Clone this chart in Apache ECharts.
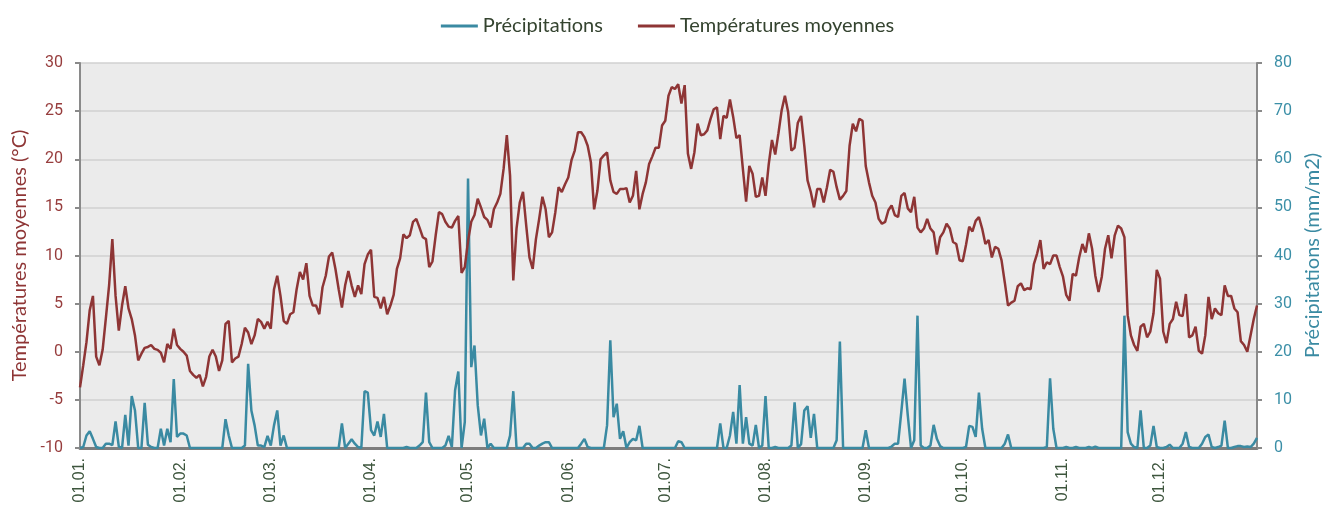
<!DOCTYPE html>
<html>
<head>
<meta charset="utf-8">
<title>Précipitations et températures moyennes</title>
<script src="https://cdn.jsdelivr.net/npm/echarts@6/dist/echarts.min.js"></script>
<style>
  html, body { margin: 0; padding: 0; background: #fff; }
  #chart { width: 1335px; height: 509px; }
</style>
</head>
<body>
<div id="chart"></div>
<script>
// jours par mois (année de 365 jours)
var monthDays = [31, 28, 31, 30, 31, 30, 31, 31, 30, 31, 30, 31]

// températures moyennes journalières (°C)
var temperatures = [
  -3.7, -1.4, 1.0, 4.3, 5.8, -0.5, -1.4, 0.2, 3.5, 6.9,
  11.7, 5.8, 2.2, 4.8, 6.8, 4.5, 3.4, 1.7, -0.9, -0.2,
  0.4, 0.5, 0.7, 0.3, 0.2, -0.1, -1.1, 0.8, 0.3, 2.4,
  0.7, 0.3, 0.0, -0.4, -2.0, -2.4, -2.7, -2.4, -3.6, -2.6,
  -0.5, 0.2, -0.5, -2.0, -0.9, 2.9, 3.2, -1.1, -0.7, -0.5,
  0.8, 2.5, 2.0, 0.8, 1.7, 3.4, 3.1, 2.4, 3.1, 2.4,
  6.5, 7.9, 5.8, 3.2, 2.9, 3.9, 4.1, 6.5, 8.3, 7.5,
  9.2, 5.8, 4.8, 4.8, 3.9, 6.7, 7.9, 9.9, 10.3, 8.6,
  6.5, 4.6, 6.9, 8.4, 6.9, 5.7, 6.9, 6.0, 9.1, 10.1,
  10.6, 5.7, 5.6, 4.5, 5.7, 3.9, 4.8, 5.9, 8.6, 9.7,
  12.2, 11.8, 12.1, 13.5, 13.8, 12.9, 11.9, 11.7, 8.8, 9.4,
  12.1, 14.5, 14.3, 13.5, 13.0, 12.9, 13.6, 14.1, 8.2, 8.8,
  11.5, 13.5, 14.2, 15.9, 15.0, 14.0, 13.7, 12.9, 14.8, 15.5,
  16.4, 19.0, 22.5, 18.3, 7.4, 12.8, 15.5, 16.6, 13.1, 9.8,
  8.6, 11.7, 13.8, 16.1, 14.8, 11.9, 12.4, 14.5, 17.1, 16.6,
  17.4, 18.1, 19.9, 20.9, 22.8, 22.8, 22.3, 21.4, 19.7, 14.8,
  16.7, 20.0, 20.4, 20.7, 17.8, 16.6, 16.4, 16.9, 16.9, 17.0,
  15.5, 16.2, 18.8, 14.8, 16.4, 17.6, 19.5, 20.3, 21.2, 21.2,
  23.5, 24.0, 26.6, 27.5, 27.3, 27.8, 25.8, 27.7, 20.6, 19.0,
  20.7, 23.7, 22.5, 22.6, 23.0, 24.2, 25.2, 25.4, 22.1, 24.5,
  24.3, 26.2, 24.4, 22.2, 22.5, 19.0, 15.6, 19.3, 18.5, 16.1,
  16.2, 18.1, 16.2, 19.5, 22.0, 20.5, 22.7, 25.1, 26.6, 24.9,
  20.9, 21.2, 23.8, 24.5, 21.4, 17.8, 16.6, 15.0, 16.9, 16.9,
  15.5, 17.1, 18.9, 18.7, 17.1, 15.8, 16.2, 16.7, 21.4, 23.7,
  22.9, 24.2, 24.0, 19.3, 17.6, 16.2, 15.5, 13.8, 13.3, 13.5,
  14.7, 15.2, 14.2, 14.0, 16.2, 16.5, 14.9, 14.5, 16.1, 12.9,
  12.4, 12.8, 13.8, 12.8, 12.4, 10.1, 11.9, 12.4, 13.3, 12.8,
  11.4, 11.2, 9.5, 9.4, 11.1, 13.0, 12.5, 13.6, 14.0, 12.8,
  11.2, 11.6, 9.8, 10.9, 10.7, 9.5, 7.2, 4.8, 5.1, 5.3,
  6.8, 7.1, 6.4, 6.6, 6.5, 9.1, 10.2, 11.6, 8.6, 9.3,
  9.1, 10.0, 10.0, 8.8, 7.8, 5.9, 5.3, 8.1, 7.9, 9.8,
  11.2, 10.3, 12.3, 10.7, 7.9, 6.2, 7.8, 10.7, 12.1, 9.7,
  12.1, 13.1, 12.8, 11.9, 3.8, 1.7, 0.7, 0.1, 2.6, 2.9,
  1.5, 2.1, 4.0, 8.5, 7.6, 2.1, 0.9, 2.9, 3.4, 5.2,
  3.8, 3.7, 6.0, 1.5, 1.7, 2.6, 0.1, -0.2, 1.7, 5.7,
  3.4, 4.5, 4.0, 3.8, 6.9, 5.8, 5.8, 4.5, 4.1, 1.1,
  0.7, 0.0, 1.7, 3.4, 4.8
]

// précipitations journalières (mm/m2)
var precipitations = [
  0, 0.2, 2.6, 3.5, 1.9, 0.2, 0, 0, 0.9, 0.9,
  0.6, 5.5, 0.3, 0, 6.9, 0.5, 10.8, 7.8, 0, 0,
  9.4, 0.7, 0.2, 0, 0, 4.0, 0.5, 4.0, 1.2, 14.3,
  2.3, 3.0, 3.0, 2.6, 0, 0, 0, 0, 0, 0,
  0, 0, 0, 0, 0, 6.0, 2.6, 0, 0, 0,
  0, 0.5, 17.5, 7.8, 4.7, 0.5, 0.5, 0.2, 2.5, 0.5,
  4.7, 7.8, 0.5, 2.6, 0, 0, 0, 0, 0, 0,
  0, 0, 0, 0, 0, 0, 0, 0, 0, 0,
  0, 5.1, 0, 0.9, 1.8, 0.9, 0.2, 0, 11.8, 11.5,
  3.7, 2.6, 5.5, 2.3, 7.1, 0, 0, 0, 0, 0,
  0, 0.2, 0, 0, 0, 0.5, 1.2, 11.5, 1.2, 0,
  0, 0, 0, 0.5, 2.5, 0.2, 12.0, 15.9, 0, 5.4,
  56.0, 16.8, 21.3, 8.9, 2.6, 6.1, 0, 0.9, 0, 0,
  0, 0, 0, 2.6, 11.8, 0, 0, 0, 0.9, 0.9,
  0, 0, 0.5, 0.9, 1.2, 1.2, 0, 0, 0, 0,
  0, 0, 0, 0, 0, 0.9, 1.9, 0.2, 0, 0,
  0, 0, 0, 4.7, 22.4, 6.4, 9.2, 1.9, 3.5, 0,
  1.2, 1.9, 1.6, 4.6, 0, 0, 0, 0, 0, 0,
  0, 0, 0, 0, 0, 1.4, 1.2, 0, 0, 0,
  0, 0, 0, 0, 0, 0, 0, 0, 5.1, 0,
  0, 2.6, 7.5, 0.9, 13.1, 0.9, 6.4, 0.9, 0.5, 4.8,
  0, 0.5, 10.8, 0, 0, 0.2, 0, 0, 0, 0,
  0.5, 9.5, 0, 0.8, 7.8, 8.7, 2.1, 7.1, 0, 0,
  0, 0, 0, 0, 1.6, 22.1, 0, 0, 0, 0,
  0, 0, 0, 3.7, 0, 0, 0, 0, 0, 0,
  0, 0.3, 0.9, 0.9, 7.5, 14.4, 6.8, 0, 1.6, 27.5,
  0.5, 0, 0, 0.5, 4.8, 1.9, 0.4, 0, 0, 0,
  0, 0, 0, 0, 0.2, 4.6, 4.4, 2.3, 11.5, 4.0,
  0, 0, 0, 0, 0, 0, 0.9, 2.8, 0, 0,
  0, 0, 0, 0, 0, 0, 0, 0, 0, 0.2,
  14.5, 4.0, 0, 0, 0, 0.2, 0, 0, 0.2, 0,
  0, 0, 0.2, 0, 0.3, 0, 0, 0, 0, 0,
  0, 0, 0, 27.5, 3.3, 0.9, 0.2, 0, 7.8, 0,
  0, 0.5, 4.6, 0.2, 0, 0, 0.2, 0.7, 0, 0,
  0, 0.9, 3.3, 0.2, 0, 0, 0, 0.9, 2.3, 2.8,
  0.2, 0, 0.2, 0.5, 5.7, 0, 0, 0.2, 0.4, 0.4,
  0.2, 0.3, 0.2, 0.9, 2.1
]

// libellés des jours "jj.mm."
var days = []
for (var m = 0; m < monthDays.length; m++) {
  for (var d = 1; d <= monthDays[m]; d++) {
    days.push((d < 10 ? '0' : '') + d + '.' + (m < 9 ? '0' : '') + (m + 1) + '.')
  }
}

var colorTemp = '#8e3535'
var colorPrec = '#3a8aa2'
var axisGray = '#8a8a8a'

var chart = echarts.init(document.getElementById('chart'))
var option = {
  animation: false,
  legend: {
    top: 11,
    left: 'center',
    icon: 'rect',
    itemWidth: 37,
    itemHeight: 3,
    itemGap: 35,
    textStyle: { color: '#34432f', fontSize: 20, fontFamily: 'Lato' },
    data: ['Précipitations', 'Températures moyennes']
  },
  grid: {
    left: 80,
    right: 78,
    top: 63,
    bottom: 61,
    outerBoundsMode: 'none',
    containLabel: false,
    show: true,
    backgroundColor: '#ebebeb',
    borderWidth: 0
  },
  xAxis: {
    type: 'category',
    boundaryGap: false,
    data: days,
    axisLine: { onZero: false, lineStyle: { color: '#7d7d7d', width: 3 } },
    axisTick: { show: false },
    axisLabel: {
      rotate: 90,
      margin: 10,
      color: '#3d553d',
      fontSize: 16,
      fontFamily: 'Liberation Sans',
      interval: function (index, value) {
        return value.slice(0, 3) === '01.'
      }
    },
    splitLine: { show: false }
  },
  yAxis: [
    {
      type: 'value',
      position: 'left',
      min: -10,
      max: 30,
      interval: 5,
      name: 'Températures moyennes (°C)',
      nameLocation: 'middle',
      nameRotate: 90,
      nameGap: 47,
      nameTextStyle: { color: colorTemp, fontSize: 20, fontFamily: 'Lato' },
      axisLine: { show: true, lineStyle: { color: axisGray, width: 2 } },
      axisTick: { show: true, length: 5, lineStyle: { color: axisGray, width: 2 } },
      axisLabel: { color: '#973d3d', fontSize: 16, margin: 17, fontFamily: 'Roboto' },
      splitLine: { lineStyle: { color: '#d0d0d0', width: 1.5 } }
    },
    {
      type: 'value',
      position: 'right',
      min: 0,
      max: 80,
      interval: 10,
      name: 'Précipitations (mm/m2)',
      nameLocation: 'middle',
      nameRotate: 90,
      nameGap: 46,
      nameTextStyle: { color: colorPrec, fontSize: 20, fontFamily: 'Lato' },
      axisLine: { show: true, lineStyle: { color: axisGray, width: 2 } },
      axisTick: { show: true, length: 5, lineStyle: { color: axisGray, width: 2 } },
      axisLabel: { color: '#3b8fa7', fontSize: 16, margin: 17, fontFamily: 'Roboto' },
      splitLine: { show: false }
    }
  ],
  series: [
    {
      name: 'Précipitations',
      type: 'line',
      yAxisIndex: 1,
      data: precipitations,
      showSymbol: false,
      color: colorPrec,
      lineStyle: { color: colorPrec, width: 2.5 }
    },
    {
      name: 'Températures moyennes',
      type: 'line',
      yAxisIndex: 0,
      data: temperatures,
      showSymbol: false,
      color: colorTemp,
      lineStyle: { color: colorTemp, width: 2.5 }
    }
  ]
}
chart.setOption(option)
</script>
</body>
</html>
